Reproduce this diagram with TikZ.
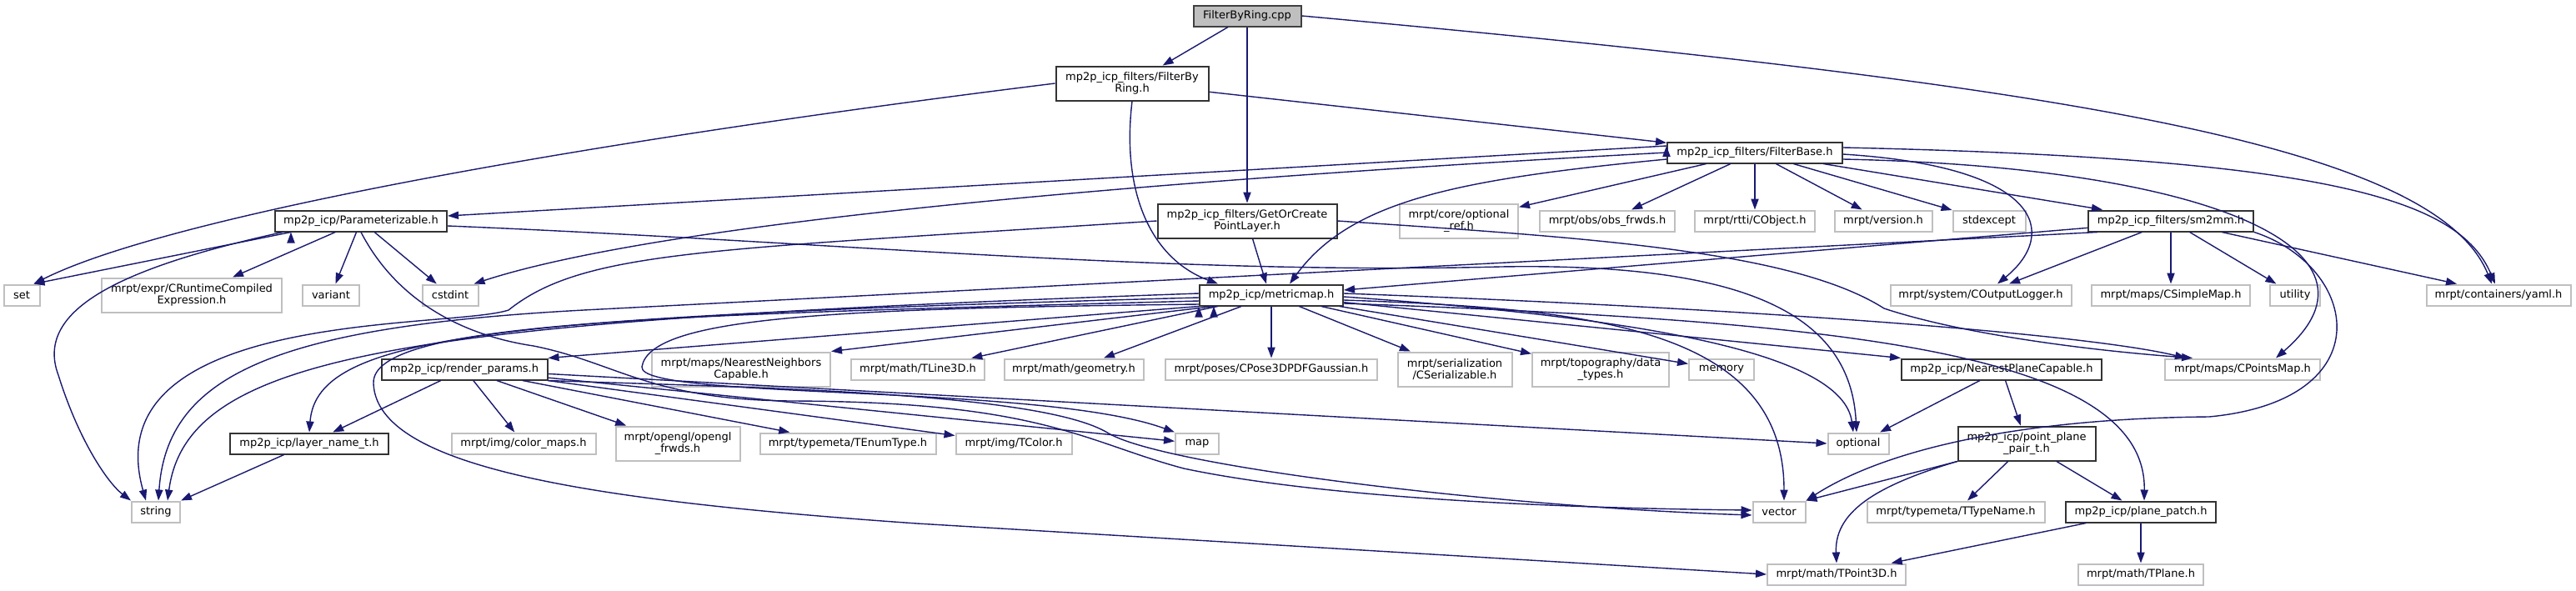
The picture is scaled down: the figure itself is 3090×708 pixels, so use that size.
\documentclass[tikz,border=0pt]{standalone}
\usepackage{fontspec}
\setmainfont{DejaVu Sans}
\usetikzlibrary{arrows.meta}
\definecolor{edgeblue}{HTML}{191970}
\definecolor{greyline}{HTML}{BFBFBF}
\tikzstyle{filebox}=[rectangle,font=\fontsize{6.5}{7.3}\selectfont,align=center,text=black,fill=white,inner xsep=1pt,inner ysep=2.5pt,minimum height=12.5pt,line width=1pt]
\tikzstyle{docbox}=[filebox,draw=black!80]
\tikzstyle{extbox}=[filebox,draw=greyline]
\tikzstyle{rootbox}=[filebox,draw=black!75,fill=greyline]
\tikzstyle{twoline}=[minimum height=20.5pt]

\begin{document}
\begin{tikzpicture}[x=0.5pt,y=-0.5pt,>={Triangle[length=6.5pt,width=4.6pt]},line width=0.7pt,draw=edgeblue,color=edgeblue]
\useasboundingbox (0,0) rectangle (3090,708);
\node[rootbox, minimum width=64.5pt] at (1496, 19) (root) {FilterByRing.cpp};
\node[docbox, twoline, minimum width=91.5pt] at (1358, 100) (fbr) {mp2p\_icp\_filters/FilterBy\\Ring.h};
\node[docbox, minimum width=105pt] at (2105, 183) (fbase) {mp2p\_icp\_filters/FilterBase.h};
\node[docbox, minimum width=103pt] at (433, 265) (param) {mp2p\_icp/Parameterizable.h};
\node[docbox, twoline, minimum width=107.5pt] at (1496, 265) (gcpl) {mp2p\_icp\_filters/GetOrCreate\\PointLayer.h};
\node[extbox, twoline, minimum width=71pt] at (1750, 265) (optref) {mrpt/core/optional\\\_ref.h};
\node[extbox, minimum width=81pt] at (1928, 265) (obsfrwds) {mrpt/obs/obs\_frwds.h};
\node[extbox, minimum width=72pt] at (2105, 265) (cobject) {mrpt/rtti/CObject.h};
\node[extbox, minimum width=58.5pt] at (2259, 265) (version) {mrpt/version.h};
\node[extbox, minimum width=43.5pt] at (2386, 265) (stdexcept) {stdexcept};
\node[docbox, minimum width=99pt] at (2604, 265) (sm2mm) {mp2p\_icp\_filters/sm2mm.h};
\node[extbox, minimum width=21.5pt] at (26, 354) (set) {set};
\node[extbox, twoline, minimum width=108pt] at (230, 354) (expr) {mrpt/expr/CRuntimeCompiled\\Expression.h};
\node[extbox, minimum width=34pt] at (397, 354) (variant) {variant};
\node[extbox, minimum width=33.5pt] at (540, 354) (cstdint) {cstdint};
\node[docbox, minimum width=86pt] at (1525, 354) (mmap) {mp2p\_icp/metricmap.h};
\node[extbox, minimum width=108.5pt] at (2376, 354) (outlog) {mrpt/system/COutputLogger.h};
\node[extbox, minimum width=95pt] at (2604, 354) (simplemap) {mrpt/maps/CSimpleMap.h};
\node[extbox, minimum width=30pt] at (2753, 354) (utility) {utility};
\node[extbox, minimum width=86.5pt] at (2997, 354) (yaml) {mrpt/containers/yaml.h};
\node[docbox, minimum width=99.5pt] at (557, 443) (render) {mp2p\_icp/render\_params.h};
\node[extbox, twoline, minimum width=107pt] at (889, 443) (nncap) {mrpt/maps/NearestNeighbors\\Capable.h};
\node[extbox, minimum width=80pt] at (1101, 443) (tline) {mrpt/math/TLine3D.h};
\node[extbox, minimum width=83.5pt] at (1288, 443) (geom) {mrpt/math/geometry.h};
\node[extbox, minimum width=127pt] at (1525, 443) (pose) {mrpt/poses/CPose3DPDFGaussian.h};
\node[extbox, twoline, minimum width=68.5pt] at (1745, 443) (serial) {mrpt/serialization\\/CSerializable.h};
\node[extbox, twoline, minimum width=82pt] at (1920, 443) (topo) {mrpt/topography/data\\\_types.h};
\node[extbox, minimum width=39pt] at (2065, 443) (memory) {memory};
\node[docbox, minimum width=120pt] at (2401, 443) (nplane) {mp2p\_icp/NearestPlaneCapable.h};
\node[extbox, minimum width=93pt] at (2690, 443) (cpoints) {mrpt/maps/CPointsMap.h};
\node[docbox, minimum width=95pt] at (371, 532) (layer) {mp2p\_icp/layer\_name\_t.h};
\node[extbox, minimum width=86.5pt] at (628, 532) (cmaps) {mrpt/img/color\_maps.h};
\node[extbox, twoline, minimum width=74.5pt] at (813, 532) (glfrwds) {mrpt/opengl/opengl\\\_frwds.h};
\node[extbox, minimum width=105.5pt] at (1017, 532) (tenum) {mrpt/typemeta/TEnumType.h};
\node[extbox, minimum width=69.5pt] at (1216, 532) (tcolor) {mrpt/img/TColor.h};
\node[extbox, minimum width=26pt] at (1436, 532) (map) {map};
\node[extbox, minimum width=36.5pt] at (2229, 532) (optional) {optional};
\node[docbox, twoline, minimum width=82.5pt] at (2431, 532) (ppair) {mp2p\_icp/point\_plane\\\_pair\_t.h};
\node[extbox, minimum width=29pt] at (187, 614) (string) {string};
\node[extbox, minimum width=31.5pt] at (2134, 614) (vector) {vector};
\node[extbox, minimum width=106.5pt] at (2346, 614) (ttype) {mrpt/typemeta/TTypeName.h};
\node[docbox, minimum width=90pt] at (2568, 614) (ppatch) {mp2p\_icp/plane\_patch.h};
\node[extbox, minimum width=83pt] at (2203, 689) (tpoint) {mrpt/math/TPoint3D.h};
\node[extbox, minimum width=75pt] at (2568, 689) (tplane) {mrpt/math/TPlane.h};
% FilterByRing.cpp
\draw[->] (root) edge (fbr);
\draw[->] (root) edge (gcpl);
\draw[->] (root.east) .. controls (2450,100) and (2920,170) .. ([xshift=-4pt]yaml.north);
% FilterByRing.h
\draw[->] (fbr) edge (fbase);
\draw[->] (fbr.west) .. controls (700,170) and (200,260) .. ([xshift=-4pt]set.north east);
\draw[->] (fbr.south) .. controls (1345,230) and (1380,310) .. ([xshift=-32pt]mmap.north);
% FilterBase.h
\draw[->] ([yshift=4pt]fbase.west) edge ([yshift=3pt]param.east);
\draw[->] (fbase.west) .. controls (1400,215) and (800,265) .. ([xshift=-3pt]cstdint.north east);
\draw[->] ([yshift=-4pt]fbase.west) .. controls (1750,215) and (1620,240) .. ([xshift=11pt]mmap.north);
\draw[->] (fbase) edge (optref);
\draw[->] (fbase) edge (obsfrwds);
\draw[->] (fbase) edge (cobject);
\draw[->] (fbase) edge (version);
\draw[->] (fbase) edge (stdexcept);
\draw[->] (fbase) edge (sm2mm);
\draw[->] ([yshift=-1pt]fbase.east) .. controls (2450,200) and (2470,280) .. ([xshift=10pt]outlog.north);
\draw[->] ([yshift=-4pt]fbase.east) .. controls (2650,200) and (2880,300) .. ([xshift=20pt]cpoints.north);
\draw[->] ([yshift=3pt]fbase.east) .. controls (2800,190) and (2950,240) .. ([xshift=-2pt]yaml.north);
% Parameterizable.h
\draw[->] ([xshift=10pt]param.south west) edge ([xshift=-4pt]set.north east);
\draw[->] (param) edge (expr);
\draw[->] (param) edge (variant);
\draw[->] (param) edge (cstdint);
\draw[->] ([xshift=5pt]param.south west) .. controls (150,320) and (40,370) .. (70,450) .. controls (95,530) and (130,580) .. (string.north west);
\draw[->] ([yshift=-3pt]param.east) .. controls (1000,290) and (1400,330) .. (1800,320) .. controls (2100,315) and (2220,380) .. ([xshift=-1pt]optional.north);
\draw[->] (param.south) .. controls (470,350) and (540,400) .. (640,415) .. controls (740,435) and (780,480) .. (950,481) .. controls (1250,482) and (1300,530) .. (1420,562) .. controls (1600,600) and (1900,610) .. ([yshift=1pt]vector.west);
% GetOrCreatePointLayer.h
\draw[->] (gcpl) edge ([xshift=-3pt]mmap.north);
\draw[->] (gcpl.west) .. controls (850,300) and (700,300) .. (610,372) .. controls (540,395) and (110,370) .. ([xshift=-6pt]string.north);
\draw[->] (gcpl.east) .. controls (1900,285) and (2150,300) .. (2260,370) .. controls (2350,400) and (2500,420) .. ([xshift=-30pt]cpoints.north);
% sm2mm.h
\draw[->] (sm2mm) edge ([yshift=3pt]mmap.east);
\draw[->] (sm2mm) edge ([xshift=17pt]outlog.north);
\draw[->] (sm2mm) edge (simplemap);
\draw[->] (sm2mm) edge (utility);
\draw[->] (sm2mm) edge ([xshift=-25pt]yaml.north);
\draw[->] ([xshift=6pt]sm2mm.south west) -- (700,372) .. controls (330,392) and (200,450) .. ([xshift=1.5pt]string.north);
\draw[->] (sm2mm.south east) .. controls (2830,320) and (2860,480) .. (2650,500) .. controls (2420,502) and (2260,540) .. (vector.north east);
% metricmap.h
\draw[->] ([yshift=1pt]mmap.west) .. controls (500,385) and (225,420) .. ([xshift=7pt]string.north);
\draw[->] ([yshift=-1.5pt]mmap.west) .. controls (600,380) and (380,400) .. (layer.north);
\draw[->] ([yshift=-3.5pt]mmap.west) .. controls (800,378) and (445,385) .. (448,460) .. controls (452,560) and (700,600) .. (1100,628) -- (tpoint.west);
\draw[->] ([yshift=-5.5pt]mmap.west) .. controls (1000,370) and (780,380) .. (770,440) .. controls (765,480) and (1250,460) .. (map.north west);
\draw[->] (mmap.south west) edge (render.north east);
\draw[->] ([xshift=9pt]mmap.south west) edge (nncap.north east);
\draw[->] (mmap) edge (tline);
\draw[->] (mmap) edge (geom);
\draw[->] (mmap) edge (pose);
\draw[->] (mmap) edge (serial);
\draw[->] (mmap) edge (topo);
\draw[->] (mmap) edge (memory);
\draw[->] (mmap) edge (nplane.north west);
\draw[->] ([yshift=1pt]mmap.east) .. controls (2100,370) and (2500,400) .. ([xshift=-34pt]cpoints.north);
\draw[->] ([yshift=-1pt]mmap.east) .. controls (1950,380) and (2210,420) .. ([xshift=-3pt]optional.north);
\draw[->] ([yshift=-3pt]mmap.east) .. controls (1900,370) and (2140,390) .. ([xshift=3pt]vector.north);
\draw[->] ([yshift=-5pt]mmap.east) .. controls (2200,385) and (2575,420) .. ([xshift=2pt]ppatch.north);
% render_params.h
\draw[->] (render) edge (layer);
\draw[->] (render) edge (cmaps);
\draw[->] (render) edge (glfrwds);
\draw[->] (render) edge (tenum);
\draw[->] (render) edge (tcolor);
\draw[->] (render) edge (map);
\draw[->] (render) edge (optional.west);
\draw[->] (render.south east) .. controls (900,465) and (1250,470) .. (1330,520) .. controls (1400,560) and (1800,608) .. ([yshift=-2pt]vector.west);
\draw[->] (layer) edge (string.north east);
% NearestPlaneCapable.h and below
\draw[->] (nplane) edge (optional);
\draw[->] (nplane) edge (ppair);
\draw[->] (ppair) edge (vector.north east);
\draw[->] (ppair) edge (ttype);
\draw[->] (ppair) edge (ppatch);
\draw[->] (ppair.south west) .. controls (2260,580) and (2200,610) .. (tpoint.north);
\draw[->] (ppatch) edge (tpoint);
\draw[->] (ppatch) edge (tplane);
\end{tikzpicture}
\end{document}
